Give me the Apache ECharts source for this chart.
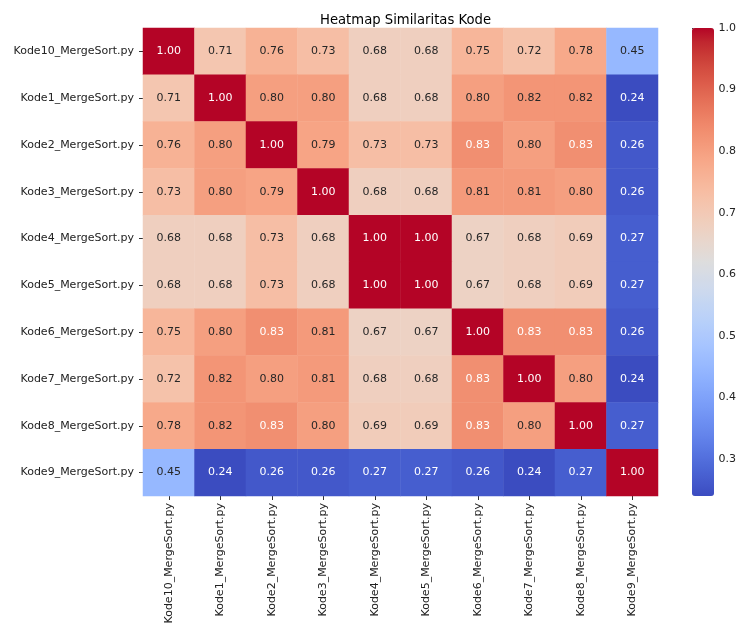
<!DOCTYPE html>
<html>
<head>
<meta charset="utf-8">
<script src="https://cdn.jsdelivr.net/npm/echarts@6/dist/echarts.min.js"></script>
<style>
html,body{margin:0;padding:0;background:#fff;}
#chart{width:739px;height:629px;}
</style>
</head>
<body>
<div id="chart"></div>
<script>
const fileLabels = ["Kode10_MergeSort.py","Kode1_MergeSort.py","Kode2_MergeSort.py","Kode3_MergeSort.py","Kode4_MergeSort.py","Kode5_MergeSort.py","Kode6_MergeSort.py","Kode7_MergeSort.py","Kode8_MergeSort.py","Kode9_MergeSort.py"];
const rowKode10 = [1.00,0.71,0.76,0.73,0.68,0.68,0.75,0.72,0.78,0.45];
const rowKode1  = [0.71,1.00,0.80,0.80,0.68,0.68,0.80,0.82,0.82,0.24];
const rowKode2  = [0.76,0.80,1.00,0.79,0.73,0.73,0.83,0.80,0.83,0.26];
const rowKode3  = [0.73,0.80,0.79,1.00,0.68,0.68,0.81,0.81,0.80,0.26];
const rowKode4  = [0.68,0.68,0.73,0.68,1.00,1.00,0.67,0.68,0.69,0.27];
const rowKode5  = [0.68,0.68,0.73,0.68,1.00,1.00,0.67,0.68,0.69,0.27];
const rowKode6  = [0.75,0.80,0.83,0.81,0.67,0.67,1.00,0.83,0.83,0.26];
const rowKode7  = [0.72,0.82,0.80,0.81,0.68,0.68,0.83,1.00,0.80,0.24];
const rowKode8  = [0.78,0.82,0.83,0.80,0.69,0.69,0.83,0.80,1.00,0.27];
const rowKode9  = [0.45,0.24,0.26,0.26,0.27,0.27,0.26,0.24,0.27,1.00];
const matrix = [rowKode10,rowKode1,rowKode2,rowKode3,rowKode4,rowKode5,rowKode6,rowKode7,rowKode8,rowKode9];
const colorbarMin = 0.24;
const colorbarMax = 1.0;
const colorbarTicks = [0.3,0.4,0.5,0.6,0.7,0.8,0.9,1.0];

// matplotlib coolwarm (Moreland) control points
const coolwarm = [
 [59,76,192],[68,90,204],[77,104,215],[87,117,225],[98,130,234],[108,142,241],[119,154,247],[130,165,251],
 [141,176,254],[152,185,255],[163,194,255],[174,201,253],[184,208,249],[194,213,244],[204,217,238],[213,219,230],
 [221,221,221],[229,216,209],[236,211,197],[241,204,185],[245,196,173],[247,187,160],[247,177,148],[247,166,135],
 [244,154,123],[241,141,111],[236,127,99],[229,112,88],[222,96,77],[213,80,66],[203,62,56],[192,40,47],[180,4,38]
].map(c => 'rgb(' + c.join(',') + ')');

const FONT = 'DejaVu Sans';
const data = [];
matrix.forEach((row, r) => {
  row.forEach((v, c) => {
    const light = (v >= 0.825 || v <= 0.35);
    data.push({ value: [c, r, v], label: { color: light ? '#ffffff' : '#262626' } });
  });
});

const L = 143, R = 658, T = 28, B = 496;
const chart = echarts.init(document.getElementById('chart'), null, { renderer: 'canvas' });
chart.setOption({
  animation: false,
  backgroundColor: '#ffffff',
  title: {
    text: 'Heatmap Similaritas Kode',
    left: (L + R) / 2, top: 9, textAlign: 'center',
    textStyle: { fontFamily: FONT, fontSize: 13.2, fontWeight: 'normal', color: '#000' }
  },
  grid: [
    { left: L, top: T, width: R - L, height: B - T },
    { left: 692, top: T, width: 22, height: B - T }
  ],
  xAxis: [
    {
      type: 'category', data: fileLabels, gridIndex: 0,
      axisLine: { show: false },
      axisTick: { show: true, alignWithLabel: true, length: 4, lineStyle: { color: '#333' } },
      axisLabel: { rotate: 90, margin: 7, fontFamily: FONT, fontSize: 11, color: '#222', interval: 0 },
      splitLine: { show: false }
    },
    { type: 'value', gridIndex: 1, show: false, min: 0, max: 1 }
  ],
  yAxis: [
    {
      type: 'category', data: fileLabels, inverse: true, gridIndex: 0,
      axisLine: { show: false },
      axisTick: { show: true, alignWithLabel: true, length: 4, lineStyle: { color: '#333' } },
      axisLabel: { margin: 9, fontFamily: FONT, fontSize: 11, color: '#222', interval: 0 },
      splitLine: { show: false }
    },
    {
      type: 'value', gridIndex: 1, position: 'right', min: colorbarMin, max: colorbarMax,
      axisLine: { show: false },
      axisTick: { show: true, length: 4, lineStyle: { color: '#333' }, customValues: colorbarTicks },
      axisLabel: { margin: 8, fontFamily: FONT, fontSize: 11, color: '#222', customValues: colorbarTicks,
                   formatter: v => v.toFixed(1) },
      splitLine: { show: false }
    }
  ],
  visualMap: {
    type: 'continuous', seriesIndex: 0, min: colorbarMin, max: colorbarMax,
    calculable: false, show: true, orient: 'vertical',
    left: 692, top: T, itemWidth: 22, itemHeight: B - T, padding: 0,
    text: null, showLabel: false,
    inRange: { color: coolwarm }
  },
  series: [{
    type: 'heatmap', xAxisIndex: 0, yAxisIndex: 0,
    data: data,
    label: {
      show: true, fontFamily: FONT, fontSize: 11,
      formatter: p => p.value[2].toFixed(2)
    },
    itemStyle: { borderWidth: 0 },
    emphasis: { disabled: true }
  }]
});
</script>
</body>
</html>
